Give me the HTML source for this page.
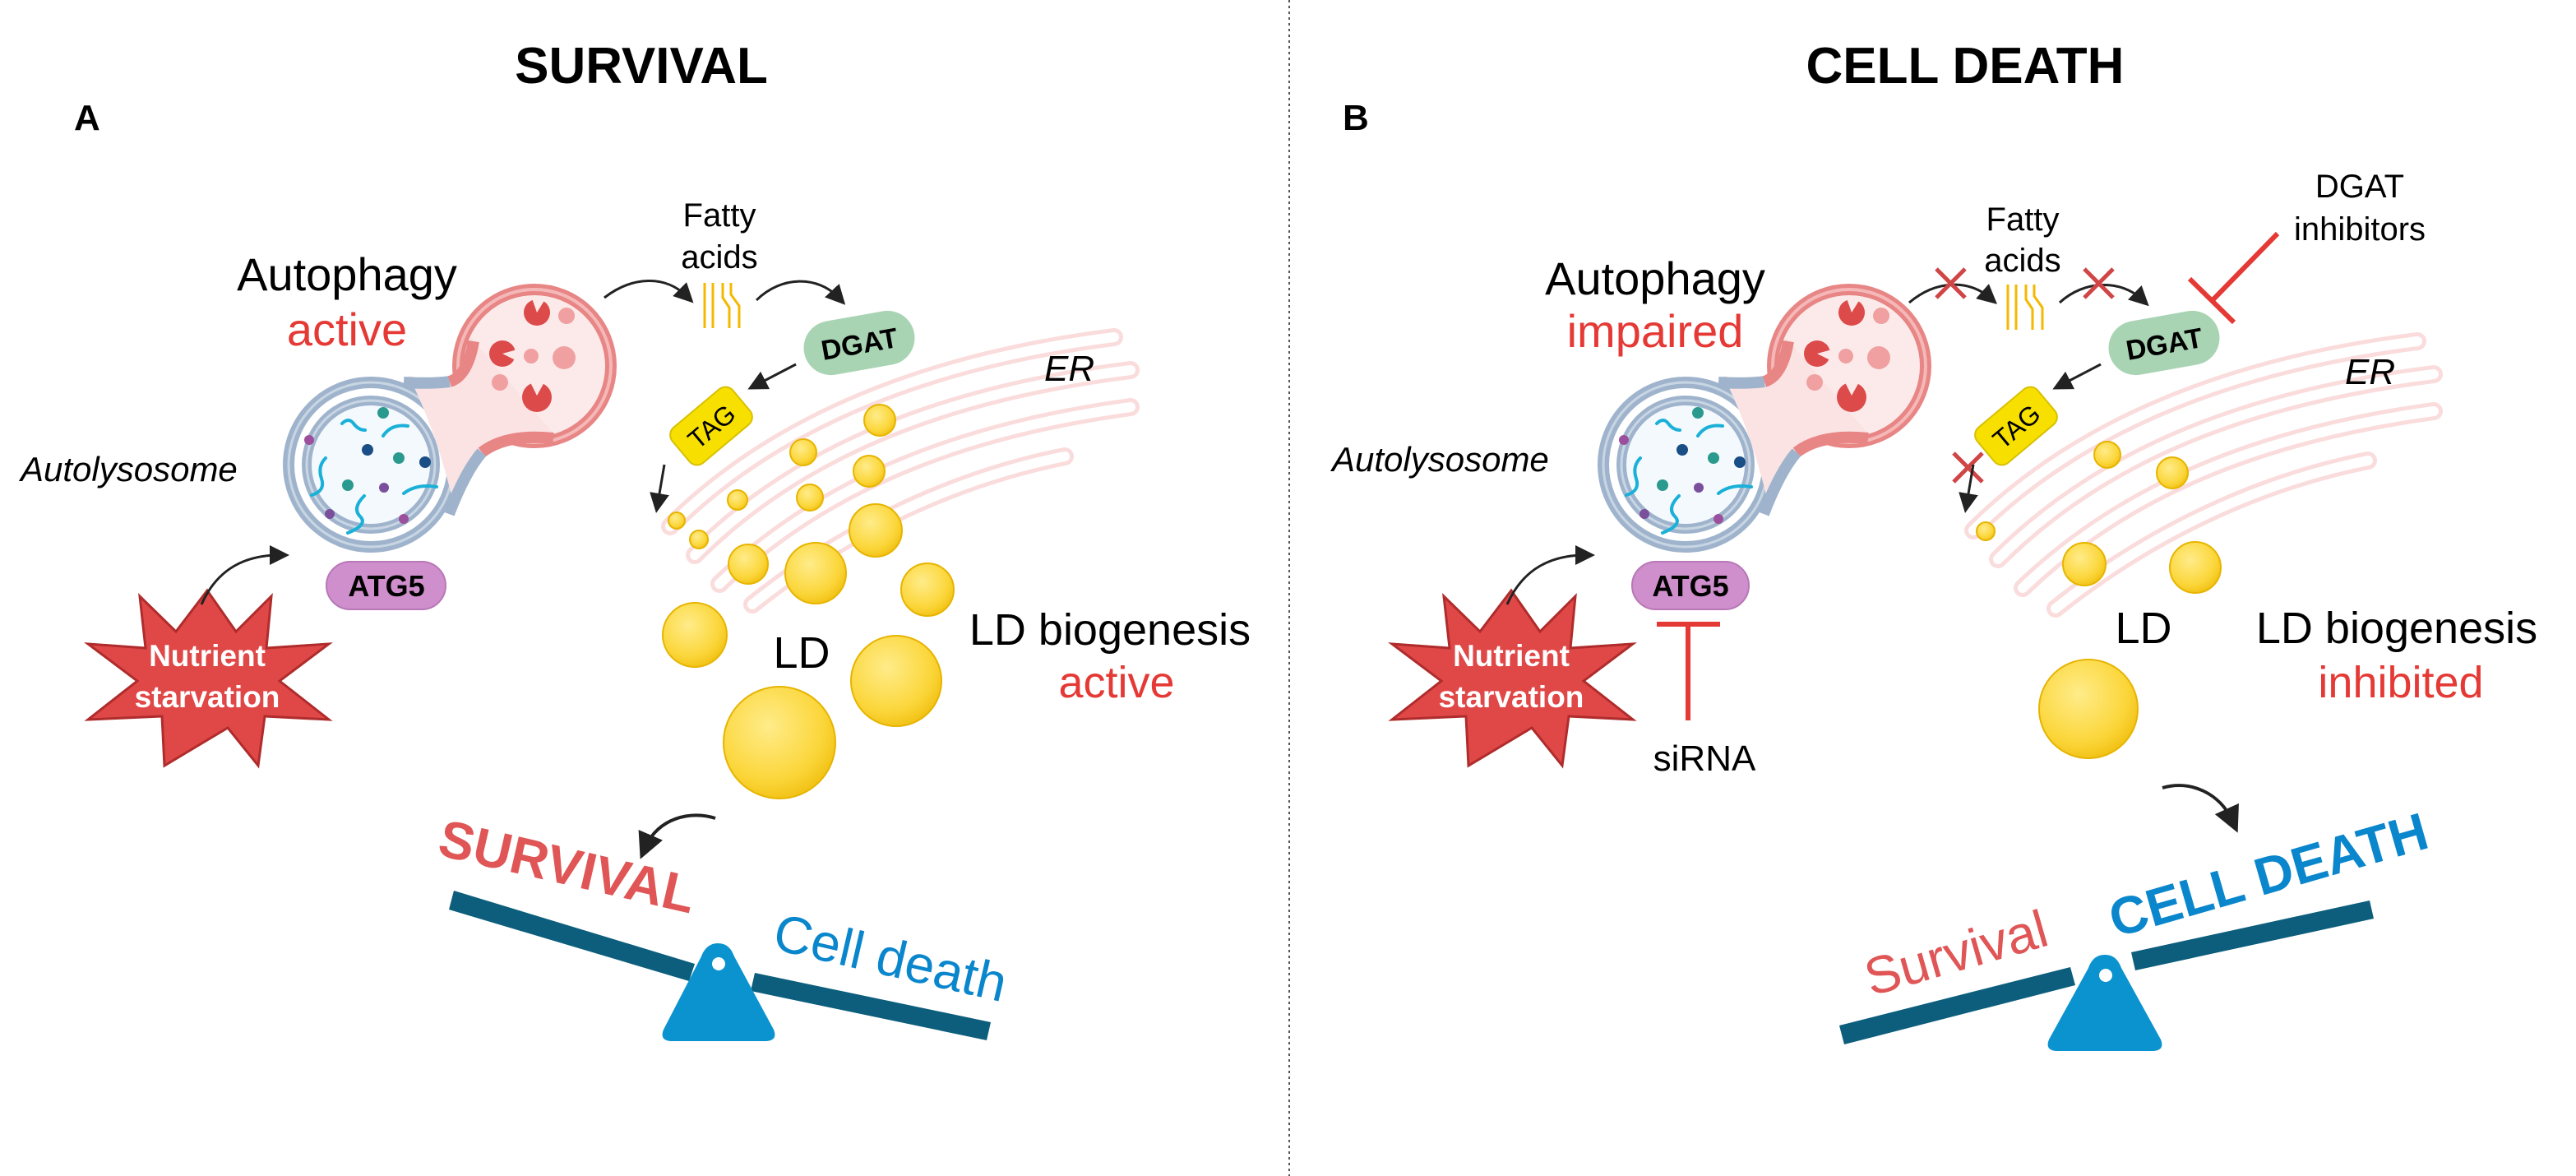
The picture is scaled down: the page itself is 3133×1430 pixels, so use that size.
<!DOCTYPE html>
<html><head><meta charset="utf-8"><style>
html,body{margin:0;padding:0;background:#fff;}
svg{display:block;}
text{font-family:"Liberation Sans",sans-serif;}
</style></head><body>
<svg width="3133" height="1430" viewBox="0 0 3133 1430" xmlns="http://www.w3.org/2000/svg">
<defs>
 <radialGradient id="ld" cx="0.4" cy="0.35" r="0.7">
  <stop offset="0" stop-color="#ffec8a"/><stop offset="0.7" stop-color="#fbd63a"/><stop offset="1" stop-color="#f0bf10"/>
 </radialGradient>
 <marker id="ah" markerWidth="8" markerHeight="8" refX="4" refY="4" orient="auto" markerUnits="strokeWidth">
  <path d="M0,0 L8,4 L0,8 Z" fill="#222"/>
 </marker>
 <g id="cell">
  <circle cx="199" cy="-120" r="93" fill="#fceaea" stroke="#e88585" stroke-width="14"/>
  <circle cx="199" cy="-120" r="93" fill="none" stroke="#f5b8b8" stroke-width="4"/>
  <circle cx="0" cy="0" r="100" fill="#fff" stroke="#9fb4cc" stroke-width="14"/>
  <circle cx="0" cy="0" r="100" fill="none" stroke="#c8d6e4" stroke-width="3"/>
  <!-- neck -->
  <path d="M46,-108 Q80,-100 96,-102 Q115,-110 122,-155 L222,-38 Q160,-40 132,-15 Q115,10 100,45 Q80,-40 46,-108 Z" fill="#fbe3e3"/>
  <path d="M40,-100 Q75,-98 96,-101" fill="none" stroke="#9fb4cc" stroke-width="14"/>
  <path d="M96,-101 Q118,-108 125,-150" fill="none" stroke="#e88585" stroke-width="14"/>
  <path d="M222,-32 Q165,-38 135,-15" fill="none" stroke="#e88585" stroke-width="14"/>
  <path d="M135,-15 Q115,8 95,60" fill="none" stroke="#9fb4cc" stroke-width="14"/>
  <circle cx="0" cy="0" r="78" fill="#f4f9fd" stroke="#9fb4cc" stroke-width="12"/>
  <circle cx="0" cy="0" r="78" fill="none" stroke="#c8d6e4" stroke-width="3"/>
  <circle cx="-75" cy="-30" r="6" fill="#9b4f9c"/><circle cx="15" cy="-63" r="7" fill="#2a9a8e"/>
  <circle cx="-4" cy="-18" r="7" fill="#1a4e86"/><circle cx="34" cy="-8" r="7" fill="#2a9a8e"/>
  <circle cx="66" cy="-3" r="7" fill="#1a4e86"/><circle cx="-28" cy="25" r="7" fill="#2a9a8e"/>
  <circle cx="16" cy="28" r="6" fill="#7a4f9c"/><circle cx="-50" cy="60" r="6" fill="#7a4f9c"/><circle cx="40" cy="66" r="6" fill="#9b4f9c"/>
  <g fill="none" stroke="#1ab0d8" stroke-width="4" stroke-linecap="round">
   <path d="M-35,-50 q8,-8 14,0 t14,8"/><path d="M15,-35 q10,-15 30,-12"/><path d="M-55,-8 q-10,10 -5,25 t-12,20"/>
   <path d="M40,35 q15,-12 40,-8"/><path d="M-8,38 q-15,15 -5,25 t-15,20"/>
  </g>
  <circle cx="202" cy="-185" r="16" fill="#dc4a4a"/><path d="M196,-202 L202,-185 L212,-201 Z" fill="#fceaea"/>
  <circle cx="160" cy="-135" r="16" fill="#dc4a4a"/><path d="M178,-140 L160,-135 L178,-126 Z" fill="#fceaea"/>
  <circle cx="202" cy="-82" r="18" fill="#dc4a4a"/><path d="M193,-102 L202,-84 L212,-102 Z" fill="#fceaea"/>
  <circle cx="238" cy="-181" r="10" fill="#f0a0a0"/><circle cx="195" cy="-132" r="9" fill="#f0a0a0"/>
  <circle cx="235" cy="-130" r="14" fill="#f0a0a0"/><circle cx="157" cy="-100" r="10" fill="#f0a0a0"/>
 </g>
 <g id="star">
  <polygon fill="#e04848" stroke="#b02c2c" stroke-width="3" points="0,-105 35,-55 78,-98 72,-35 148,-40 88,5 148,52 70,48 62,108 25,62 -52,108 -55,48 -145,52 -85,5 -145,-40 -75,-35 -82,-98 -38,-55"/>
 </g>
 <g id="er" fill="none" stroke-linecap="round">
  <g stroke="#fadcdc" stroke-width="22">
   <path d="M0,0 C120,-120 300,-200 540,-230"/>
   <path d="M30,35 C150,-85 320,-160 560,-190"/>
   <path d="M60,70 C180,-45 340,-115 560,-145"/>
   <path d="M100,95 C200,15 330,-55 480,-85"/>
  </g>
  <g stroke="#fff" stroke-width="12">
   <path d="M0,0 C120,-120 300,-200 540,-230"/>
   <path d="M30,35 C150,-85 320,-160 560,-190"/>
   <path d="M60,70 C180,-45 340,-115 560,-145"/>
   <path d="M100,95 C200,15 330,-55 480,-85"/>
  </g>
 </g>
 <g id="fa" fill="none" stroke="#f5b800" stroke-width="3">
  <path d="M0,0 v55"/><path d="M10,0 v55"/><path d="M22,0 v18 l8,12 v25"/><path d="M32,0 v14 l10,14 v27"/>
 </g>
</defs>

<line x1="1568" y1="0" x2="1568" y2="1430" stroke="#555" stroke-width="2" stroke-dasharray="3,4"/>

<!-- ========== LEFT ========== -->
<text x="780" y="101" font-size="62" font-weight="bold" text-anchor="middle">SURVIVAL</text>
<text x="90" y="158" font-size="44" font-weight="bold">A</text>

<use href="#er" x="815" y="640"/>
<use href="#cell" x="451" y="565"/>
<text x="422" y="353" font-size="56" text-anchor="middle">Autophagy</text>
<text x="422" y="420" font-size="56" text-anchor="middle" fill="#e53935">active</text>
<text x="25" y="585" font-size="42" font-style="italic">Autolysosome</text>
<rect x="397" y="683" width="145" height="58" rx="29" fill="#cf8fcc" stroke="#b877b6" stroke-width="2"/>
<text x="470" y="725" font-size="36" font-weight="bold" text-anchor="middle">ATG5</text>
<use href="#star" x="252" y="823"/>
<text x="252" y="810" font-size="37" font-weight="bold" fill="#fff" text-anchor="middle">Nutrient</text>
<text x="252" y="860" font-size="37" font-weight="bold" fill="#fff" text-anchor="middle">starvation</text>
<path d="M245,735 C265,690 300,675 340,675" fill="none" stroke="#222" stroke-width="3" marker-end="url(#ah)"/>

<text x="875" y="275" font-size="40" text-anchor="middle">Fatty</text>
<text x="875" y="326" font-size="40" text-anchor="middle">acids</text>
<use href="#fa" x="857" y="344"/>
<path d="M735,362 C770,335 810,335 835,360" fill="none" stroke="#222" stroke-width="3" marker-end="url(#ah)"/>
<path d="M920,365 C950,335 995,335 1020,362" fill="none" stroke="#222" stroke-width="3" marker-end="url(#ah)"/>
<g transform="translate(1045,417) rotate(-10)"><rect x="-68" y="-33" width="136" height="66" rx="33" fill="#a8d4b4"/><text x="0" y="13" font-size="34" font-weight="bold" text-anchor="middle">DGAT</text></g>
<path d="M968,443 L920,468" stroke="#222" stroke-width="3" marker-end="url(#ah)"/>
<g transform="translate(865,518) rotate(-40)"><rect x="-48" y="-28" width="96" height="56" rx="12" fill="#f7e000" stroke="#d8c000" stroke-width="2"/><text x="0" y="12" font-size="32" text-anchor="middle">TAG</text></g>
<path d="M808,565 L800,612" stroke="#222" stroke-width="3" marker-end="url(#ah)"/>
<text x="1270" y="463" font-size="44" font-style="italic">ER</text>
<g fill="url(#ld)" stroke="#e7b400" stroke-width="2">
 <circle cx="1070" cy="511" r="19"/><circle cx="977" cy="550" r="16"/><circle cx="1057" cy="573" r="19"/>
 <circle cx="897" cy="608" r="12"/><circle cx="985" cy="605" r="16"/><circle cx="823" cy="633" r="10"/><circle cx="850" cy="656" r="11"/>
 <circle cx="910" cy="686" r="24"/><circle cx="992" cy="697" r="37"/><circle cx="1065" cy="645" r="32"/><circle cx="1128" cy="717" r="32"/>
 <circle cx="845" cy="772" r="39"/><circle cx="1090" cy="828" r="55"/><circle cx="948" cy="903" r="68"/>
</g>
<text x="975" y="812" font-size="54" text-anchor="middle">LD</text>
<text x="1350" y="784" font-size="54" text-anchor="middle">LD biogenesis</text>
<text x="1358" y="848" font-size="54" text-anchor="middle" fill="#e53935">active</text>
<path d="M870,995 C840,985 800,995 785,1030" fill="none" stroke="#222" stroke-width="4" marker-end="url(#ah)"/>

<g transform="translate(685,1075) rotate(13)"><text x="0" y="0" font-size="64" font-weight="bold" fill="#e05555" text-anchor="middle">SURVIVAL</text></g>
<path d="M552,1083 L845,1172 L838,1193 L546,1106 Z" fill="#0c5e7c"/>
<path d="M918,1183 L1205,1243 L1200,1265 L913,1205 Z" fill="#0c5e7c"/>
<path d="M873,1147 C885,1147 890,1155 893,1163 L941,1252 C945,1262 940,1266 930,1266 L818,1266 C808,1266 803,1262 807,1252 L853,1163 C856,1155 862,1147 873,1147 Z" fill="#0a93cf"/>
<circle cx="874" cy="1172" r="8" fill="#fff"/>
<g transform="translate(1078,1186) rotate(13)"><text x="0" y="0" font-size="64" fill="#0a86cc" text-anchor="middle">Cell death</text></g>

<!-- ========== RIGHT ========== -->
<text x="2390" y="101" font-size="62" font-weight="bold" text-anchor="middle">CELL DEATH</text>
<text x="1633" y="158" font-size="44" font-weight="bold">B</text>

<use href="#er" x="2400" y="645"/>
<use href="#cell" x="2050" y="565"/>
<text x="2013" y="358" font-size="56" text-anchor="middle">Autophagy</text>
<text x="2013" y="422" font-size="56" text-anchor="middle" fill="#e53935">impaired</text>
<text x="1620" y="573" font-size="42" font-style="italic">Autolysosome</text>
<rect x="1985" y="683" width="142" height="58" rx="29" fill="#cf8fcc" stroke="#b877b6" stroke-width="2"/>
<text x="2056" y="725" font-size="36" font-weight="bold" text-anchor="middle">ATG5</text>
<line x1="2015" y1="759" x2="2092" y2="759" stroke="#e53935" stroke-width="6"/>
<line x1="2053" y1="759" x2="2053" y2="876" stroke="#e53935" stroke-width="6"/>
<text x="2073" y="937" font-size="44" text-anchor="middle">siRNA</text>
<use href="#star" x="1838" y="823"/>
<text x="1838" y="810" font-size="37" font-weight="bold" fill="#fff" text-anchor="middle">Nutrient</text>
<text x="1838" y="860" font-size="37" font-weight="bold" fill="#fff" text-anchor="middle">starvation</text>
<path d="M1833,735 C1853,690 1888,675 1928,675" fill="none" stroke="#222" stroke-width="3" marker-end="url(#ah)"/>

<text x="2460" y="280" font-size="40" text-anchor="middle">Fatty</text>
<text x="2460" y="330" font-size="40" text-anchor="middle">acids</text>
<use href="#fa" x="2442" y="346"/>
<text x="2870" y="240" font-size="40" text-anchor="middle">DGAT</text>
<text x="2870" y="292" font-size="40" text-anchor="middle">inhibitors</text>
<path d="M2322,368 C2355,340 2395,340 2420,362" fill="none" stroke="#222" stroke-width="3" marker-end="url(#ah)"/>
<path d="M2505,368 C2535,340 2580,340 2605,364" fill="none" stroke="#222" stroke-width="3" marker-end="url(#ah)"/>
<line x1="2770" y1="284" x2="2690" y2="366" stroke="#e53935" stroke-width="6"/>
<line x1="2663" y1="339" x2="2717" y2="392" stroke="#e53935" stroke-width="6"/>
<g stroke="#d04545" stroke-width="5">
 <line x1="2355" y1="327" x2="2390" y2="362"/><line x1="2390" y1="327" x2="2355" y2="362"/>
 <line x1="2535" y1="327" x2="2570" y2="362"/><line x1="2570" y1="327" x2="2535" y2="362"/>
 <line x1="2376" y1="551" x2="2411" y2="586"/><line x1="2411" y1="551" x2="2376" y2="586"/>
</g>
<g transform="translate(2632,417) rotate(-10)"><rect x="-68" y="-33" width="136" height="66" rx="33" fill="#a8d4b4"/><text x="0" y="13" font-size="34" font-weight="bold" text-anchor="middle">DGAT</text></g>
<path d="M2555,443 L2507,468" stroke="#222" stroke-width="3" marker-end="url(#ah)"/>
<g transform="translate(2452,518) rotate(-40)"><rect x="-48" y="-28" width="96" height="56" rx="12" fill="#f7e000" stroke="#d8c000" stroke-width="2"/><text x="0" y="12" font-size="32" text-anchor="middle">TAG</text></g>
<path d="M2400,565 L2392,612" stroke="#222" stroke-width="3" marker-end="url(#ah)"/>
<text x="2852" y="467" font-size="44" font-style="italic">ER</text>
<g fill="url(#ld)" stroke="#e7b400" stroke-width="2">
 <circle cx="2563" cy="553" r="16"/><circle cx="2642" cy="575" r="19"/><circle cx="2415" cy="646" r="11"/>
 <circle cx="2535" cy="686" r="26"/><circle cx="2670" cy="690" r="31"/><circle cx="2540" cy="862" r="60"/>
</g>
<text x="2607" y="782" font-size="54" text-anchor="middle">LD</text>
<text x="2915" y="782" font-size="54" text-anchor="middle">LD biogenesis</text>
<text x="2920" y="848" font-size="54" text-anchor="middle" fill="#e53935">inhibited</text>
<path d="M2630,958 C2665,948 2700,965 2715,998" fill="none" stroke="#222" stroke-width="4" marker-end="url(#ah)"/>

<g transform="translate(2385,1180) rotate(-16)"><text x="0" y="0" font-size="64" fill="#e05555" text-anchor="middle">Survival</text></g>
<g transform="translate(2765,1085) rotate(-16)"><text x="0" y="0" font-size="64" font-weight="bold" fill="#0a86cc" text-anchor="middle">CELL DEATH</text></g>
<path d="M2237,1247 L2518,1176 L2524,1198 L2243,1270 Z" fill="#0c5e7c"/>
<path d="M2592,1158 L2882,1095 L2887,1117 L2597,1180 Z" fill="#0c5e7c"/>
<path d="M2560,1161 C2572,1161 2577,1169 2580,1177 L2628,1264 C2632,1274 2627,1278 2617,1278 L2503,1278 C2493,1278 2488,1274 2492,1264 L2540,1177 C2543,1169 2548,1161 2560,1161 Z" fill="#0a93cf"/>
<circle cx="2561" cy="1186" r="8" fill="#fff"/>
</svg>
</body></html>
